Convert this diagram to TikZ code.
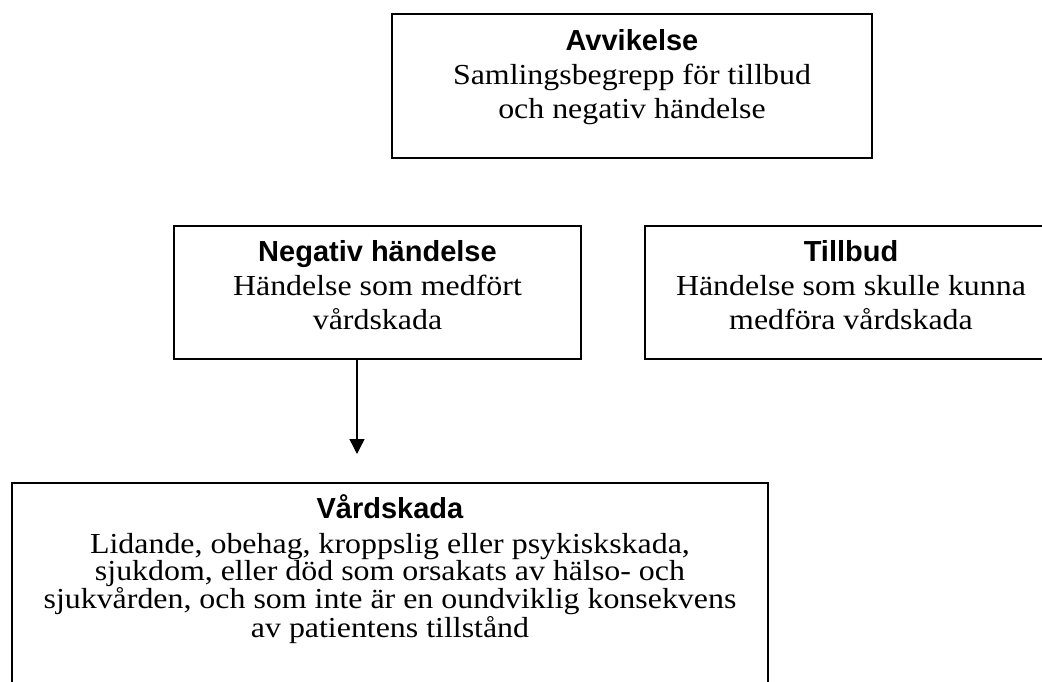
\documentclass[tikz,border=0pt]{standalone}
\usepackage{fontspec}
\setmainfont{Liberation Serif}[FakeStretch=1.1]
\setsansfont{Liberation Sans}
\usetikzlibrary{arrows.meta}
\newcommand{\Head}[1]{\textsf{\textbf{#1}}}

\begin{document}
\begin{tikzpicture}[x=1pt, y=-1pt,
    box/.style={draw, line width=1.6pt, anchor=north, inner sep=0pt},
    arr/.style={-{Triangle[length=15pt, width=15pt]}, line width=1.4pt}]

  \fontsize{29pt}{34pt}\selectfont
  \lineskiplimit=-20pt

  \useasboundingbox (0,0) rectangle (1042,682);
  \clip (0,0) rectangle (1042,682);

  \node[box] (avv) at (632,13) {\parbox[t][144pt][t]{480pt}{\centering
      \baselineskip=34pt
      \rule{0pt}{37pt}\Head{Avvikelse}\\
      Samlingsbegrepp för tillbud\\
      och negativ händelse}};

  \node[box] (neg) at (377.5,225) {\parbox[t][133pt][t]{407pt}{\centering
      \rule{0pt}{36pt}\Head{Negativ händelse}\\
      Händelse som medfört\\
      vårdskada}};

  \node[box] (till) at (851,225) {\parbox[t][133pt][t]{412pt}{\centering
      \rule{0pt}{36pt}\Head{Tillbud}\\
      Händelse som skulle kunna\\
      medföra vårdskada}};

  \node[box] (vard) at (390,482) {\parbox[t][230pt][t]{756pt}{\centering
      \baselineskip=27pt
      \rule{0pt}{36pt}\Head{Vårdskada}\\[8pt]
      Lidande, obehag, kroppslig eller psykiskskada,\\
      sjukdom, eller död som orsakats av hälso- och\\
      sjukvården, och som inte är en oundviklig konsekvens\\
      av patientens tillstånd}};

  \coordinate (tip) at (357,454);
  \draw[arr] (tip |- neg.south) -- (tip); %% neg->vard

\end{tikzpicture}
\end{document}
